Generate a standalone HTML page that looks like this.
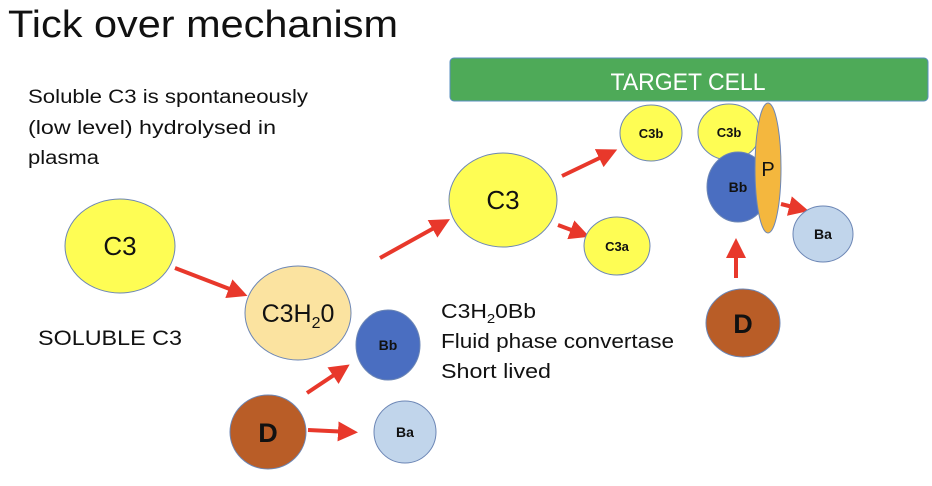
<!DOCTYPE html>
<html><head><meta charset="utf-8"><style>
html,body{margin:0;padding:0;background:#fff;}
svg{display:block;font-family:"Liberation Sans",sans-serif;}
</style></head><body>
<svg width="932" height="486" viewBox="0 0 932 486" xmlns="http://www.w3.org/2000/svg">
<defs>
<marker id="a" markerWidth="5" markerHeight="5" refX="3" refY="2.5" orient="auto" markerUnits="strokeWidth">
<path d="M0,0 L5,2.5 L0,5 z" fill="#E8382B"/></marker>
</defs>
<text x="8" y="37" font-size="38" fill="#111" textLength="390" lengthAdjust="spacingAndGlyphs">Tick over mechanism</text>
<g font-size="19" fill="#111">
<text x="28" y="103" textLength="280" lengthAdjust="spacingAndGlyphs">Soluble C3 is spontaneously</text>
<text x="28" y="134" textLength="248" lengthAdjust="spacingAndGlyphs">(low level) hydrolysed in</text>
<text x="28" y="164" textLength="71" lengthAdjust="spacingAndGlyphs">plasma</text>
</g>
<text x="38" y="345" font-size="21" fill="#111" textLength="144" lengthAdjust="spacingAndGlyphs">SOLUBLE C3</text>
<g font-size="20" fill="#111">
<text x="441" y="318" textLength="95" lengthAdjust="spacingAndGlyphs">C3H<tspan font-size="13" dy="5">2</tspan><tspan dy="-5">0Bb</tspan></text>
<text x="441" y="348" textLength="233" lengthAdjust="spacingAndGlyphs">Fluid phase convertase</text>
<text x="441" y="378" textLength="110" lengthAdjust="spacingAndGlyphs">Short lived</text>
</g>
<rect x="450" y="58" width="478" height="43" rx="4" fill="#4EAA58" stroke="#5A8FC0" stroke-width="1"/>
<text x="688" y="90" font-size="24" fill="#fff" text-anchor="middle" textLength="155" lengthAdjust="spacingAndGlyphs">TARGET CELL</text>
<g stroke="#E8382B" stroke-width="4" fill="none" marker-end="url(#a)">
<line x1="175" y1="268" x2="240" y2="293"/>
<line x1="380" y1="258" x2="443" y2="223"/>
<line x1="562" y1="176" x2="610" y2="153"/>
<line x1="558" y1="225" x2="582" y2="234"/>
<line x1="307" y1="393" x2="343" y2="369"/>
<line x1="308" y1="430" x2="350" y2="432"/>
<line x1="736" y1="278" x2="736" y2="246"/>
<line x1="781" y1="204" x2="801" y2="209"/>
</g>
<g stroke="#6C86B5" stroke-width="1">
<ellipse cx="120" cy="246" rx="55" ry="47" fill="#FEFD54"/>
<ellipse cx="298" cy="313" rx="53" ry="47" fill="#FBE3A0"/>
<ellipse cx="503" cy="200" rx="54" ry="47" fill="#FEFD54"/>
<ellipse cx="617" cy="246" rx="33" ry="29" fill="#FEFD54"/>
<ellipse cx="651" cy="133" rx="31" ry="28" fill="#FEFD54"/>
<ellipse cx="729" cy="132" rx="31" ry="28" fill="#FEFD54"/>
<ellipse cx="738" cy="187" rx="31" ry="35" fill="#4A6EC1"/>
<ellipse cx="768" cy="168" rx="13" ry="65" fill="#F4B73E"/>
<ellipse cx="823" cy="234" rx="30" ry="28" fill="#C1D5EB"/>
<ellipse cx="743" cy="323" rx="37" ry="34" fill="#B95D27"/>
<ellipse cx="388" cy="345" rx="32" ry="35" fill="#4A6EC1"/>
<ellipse cx="268" cy="432" rx="38" ry="37" fill="#B95D27"/>
<ellipse cx="405" cy="432" rx="31" ry="31" fill="#C1D5EB"/>
</g>
<g fill="#111" text-anchor="middle">
<text x="120" y="255" font-size="26">C3</text>
<text x="298" y="322" font-size="25">C3H<tspan font-size="16" dy="6">2</tspan><tspan dy="-6">0</tspan></text>
<text x="503" y="209" font-size="26">C3</text>
<text x="768" y="176" font-size="20">P</text>
<g font-weight="bold" font-size="13">
<text x="617" y="251">C3a</text>
<text x="651" y="138">C3b</text>
<text x="729" y="137">C3b</text>
<text x="738" y="192" font-size="14">Bb</text>
<text x="823" y="239" font-size="14">Ba</text>
<text x="388" y="350" font-size="14">Bb</text>
<text x="405" y="437" font-size="14">Ba</text>
<text x="743" y="333" font-size="27">D</text>
<text x="268" y="442" font-size="27">D</text>
</g>
</g>
</svg>
</body></html>
